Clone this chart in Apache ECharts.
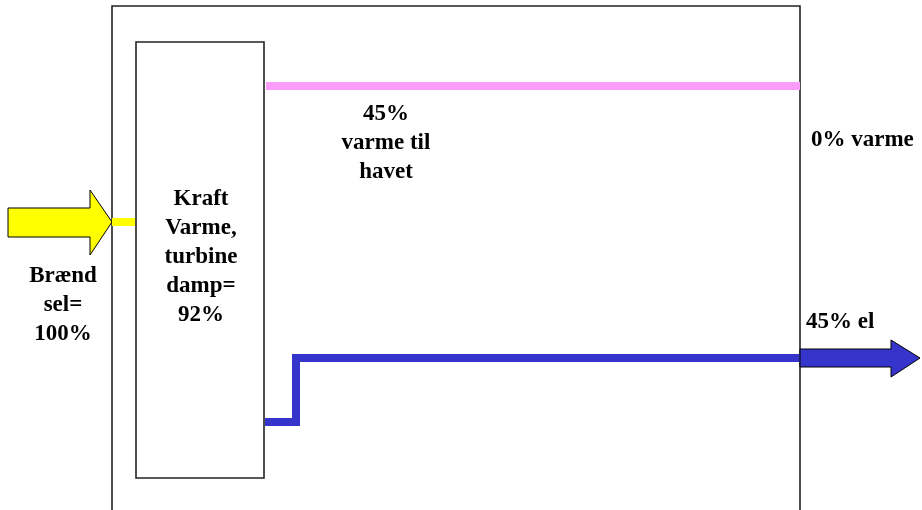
<!DOCTYPE html>
<html>
<head>
<meta charset="utf-8">
<script src="https://cdn.jsdelivr.net/npm/echarts@6/dist/echarts.min.js"></script>
<style>html,body{margin:0;padding:0;background:#fff}#c{width:922px;height:510px}</style>
</head>
<body>
<div id="c"></div>
<script>
// ---- data (energy flows, %) ----
const fuelInput = 100;
const turbineSteam = 92;
const heatToSea = 45;
const heatOut = 0;
const electricity = 45;

const fuelLabel = ['Brænd', 'sel=', fuelInput + '%'];
const plantLabel = ['Kraft', 'Varme,', 'turbine', 'damp=', turbineSteam + '%'];
const seaLabel = [heatToSea + '%', 'varme til', 'havet'];
const heatOutLabel = [heatOut + '% varme'];
const elLabel = [electricity + '% el'];

// element kinds drawn by the custom series
const elements = ['outerBox', 'plantBox', 'seaLine', 'elLine', 'elArrow', 'fuelArrow', 'fuelLink',
  'fuelText', 'plantText', 'seaText', 'heatOutText', 'elText'];

const FONT = 'bold 23px "Liberation Serif", "Times New Roman", serif';
const LH = 29;

function renderItem(params, api) {
  const kind = elements[params.dataIndex];
  const c = (x, y) => api.coord([x, y]);
  const poly = (pts) => pts.map(p => c(p[0], p[1]));
  const textLines = (lines, x, y0, align) => ({
    type: 'group',
    children: lines.map((t, i) => {
      const p = c(x, y0 + i * LH);
      return { type: 'text', style: { x: p[0], y: p[1], text: t, font: FONT, fill: '#000', align: align, verticalAlign: 'middle' } };
    })
  });
  switch (kind) {
    case 'outerBox':
      return { type: 'polyline', shape: { points: poly([[112, 520], [112, 6], [800, 6], [800, 520]]) },
        style: { fill: null, stroke: '#222', lineWidth: 1.6 } };
    case 'plantBox': {
      const a = c(136, 42), b = c(264, 478);
      return { type: 'rect', shape: { x: a[0], y: a[1], width: b[0] - a[0], height: b[1] - a[1] },
        style: { fill: '#fff', stroke: '#222', lineWidth: 1.6 } };
    }
    case 'seaLine':
      return { type: 'polyline', shape: { points: poly([[266, 86], [800, 86]]) },
        style: { stroke: '#fb9cfb', lineWidth: 8, fill: null } };
    case 'elLine':
      return { type: 'polyline', shape: { points: poly([[265, 422], [296, 422], [296, 358], [800, 358]]) },
        style: { stroke: '#3535cc', lineWidth: 8, fill: null, lineJoin: 'miter' } };
    case 'elArrow':
      return { type: 'polygon', shape: { points: poly([[800, 349], [891, 349], [891, 340], [920, 358], [891, 377], [891, 367], [800, 367]]) },
        style: { fill: '#3535cc', stroke: '#000', lineWidth: 1 } };
    case 'fuelArrow':
      return { type: 'polygon', shape: { points: poly([[8, 208], [90, 208], [90, 190], [112, 222], [90, 255], [90, 237], [8, 237]]) },
        style: { fill: '#ffff00', stroke: '#000', lineWidth: 1 } };
    case 'fuelLink':
      return { type: 'polyline', shape: { points: poly([[112, 222], [135, 222]]) },
        style: { stroke: '#ffff00', lineWidth: 8, fill: null } };
    case 'fuelText': return textLines(fuelLabel, 63, 276, 'center');
    case 'plantText': return textLines(plantLabel, 201, 199, 'center');
    case 'seaText': return textLines(seaLabel, 386, 114, 'center');
    case 'heatOutText': return textLines(heatOutLabel, 811, 140, 'left');
    case 'elText': return textLines(elLabel, 806, 322, 'left');
  }
}

const chart = echarts.init(document.getElementById('c'), null, { renderer: 'canvas' });
chart.setOption({
  animation: false,
  backgroundColor: '#fff',
  grid: { left: 0, right: 0, top: 0, bottom: 0 },
  xAxis: { type: 'value', min: 0, max: 922, show: false },
  yAxis: { type: 'value', min: 0, max: 510, inverse: true, show: false },
  series: [{
    type: 'custom',
    renderItem: renderItem,
    clip: false,
    data: elements.map((e, i) => [i])
  }]
});
</script>
</body>
</html>
